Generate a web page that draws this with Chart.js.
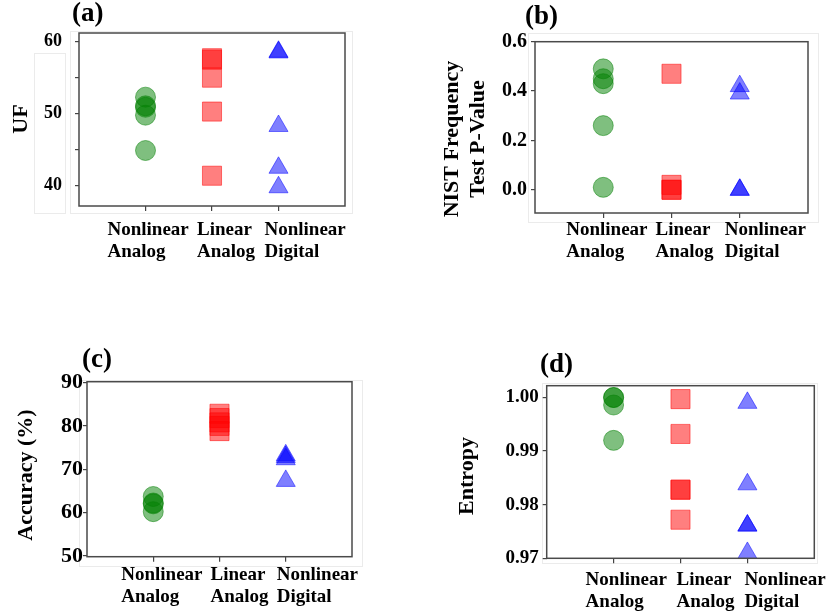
<!DOCTYPE html>
<html>
<head>
<meta charset="utf-8">
<script src="https://cdn.jsdelivr.net/npm/chart.js@4.4.1/dist/chart.umd.min.js"></script>
<style>
  html, body { margin: 0; padding: 0; background: #fff; }
  #wrap { position: relative; width: 830px; height: 616px; }
  #wrap canvas { position: absolute; }
</style>
</head>
<body>
<div id="wrap">
  <canvas id="chartA" width="415" height="308" style="left:0;top:0"></canvas>
  <canvas id="chartB" width="415" height="308" style="left:415px;top:0"></canvas>
  <canvas id="chartC" width="415" height="308" style="left:0;top:308px"></canvas>
  <canvas id="chartD" width="415" height="308" style="left:415px;top:308px"></canvas>
</div>
<script>
// categories on the x axis (two lines each)
const categories = [['Nonlinear', 'Analog'], ['Linear', 'Analog'], ['Nonlinear', 'Digital']];

// (a) UF
const ufTicks = [40, 45, 50, 55, 60];
const ufTickLabels = ['40', '', '50', '', '60'];
const ufNonlinearAnalog = [52.3, 51.1, 50.9, 49.8, 44.9];
const ufLinearAnalog = [57.7, 57.5, 55.0, 50.3, 41.4];
const ufNonlinearDigital = [58.6, 58.5, 48.3, 42.5, 39.8];

// (b) NIST frequency test p-value
const pTicks = [0.0, 0.2, 0.4, 0.6];
const pTickLabels = ['0.0', '0.2', '0.4', '0.6'];
const pNonlinearAnalog = [0.49, 0.45, 0.43, 0.26, 0.01];
const pLinearAnalog = [0.47, 0.02, 0.0, 0.0];
const pNonlinearDigital = [0.42, 0.39, 0.0, 0.0];

// (c) accuracy
const accTicks = [50, 60, 70, 80, 90];
const accTickLabels = ['50', '60', '70', '80', '90'];
const accNonlinearAnalog = [63.7, 62.2, 62.0, 60.2];
const accLinearAnalog = [82.8, 81.8, 80.8, 80.0, 78.8];
const accNonlinearDigital = [73.2, 72.8, 72.3, 67.3];

// (d) entropy
const entTicks = [0.97, 0.98, 0.99, 1.00];
const entTickLabels = ['0.97', '0.98', '0.99', '1.00'];
const entNonlinearAnalog = [1.0, 1.0, 0.9986, 0.992];
const entLinearAnalog = [0.9997, 0.9932, 0.9828, 0.9828, 0.9772];
const entNonlinearDigital = [0.9990, 0.9838, 0.9761, 0.9761, 0.9710];

const SERIF = '"Liberation Serif", "Times New Roman", serif';
const markers = [
  { style: 'circle', r: 10, color: 'rgba(0,128,0,0.5)' },
  { style: 'rect', r: 13.5, color: 'rgba(255,0,0,0.5)' },
  { style: 'triangle', r: 11, color: 'rgba(0,0,255,0.5)' }
];

// letters, axis titles, category labels, frame
function decor(p) {
  return {
    id: 'decor',
    beforeDraw(chart) {
      const ctx = chart.ctx;
      ctx.save();
      ctx.strokeStyle = '#ebebeb';
      ctx.lineWidth = 1;
      p.faint.forEach(r => ctx.strokeRect(r[0] + 0.5, r[1] + 0.5, r[2], r[3]));
      ctx.restore();
    },
    afterDatasetsDraw(chart) {
      const a = chart.chartArea, ctx = chart.ctx;
      ctx.save();
      ctx.strokeStyle = '#4a4a4a';
      ctx.lineWidth = 1.5;
      ctx.strokeRect(a.left, a.top, a.right - a.left, a.bottom - a.top);
      ctx.restore();
    },
    afterDraw(chart) {
      const ctx = chart.ctx, a = chart.chartArea, xs = chart.scales.x;
      ctx.save();
      ctx.fillStyle = '#000';
      ctx.font = 'bold 27px ' + SERIF;
      ctx.textAlign = 'left';
      ctx.textBaseline = 'alphabetic';
      ctx.fillText(p.letter, p.letterPos[0], p.letterPos[1]);

      ctx.font = 'bold 22px ' + SERIF;
      p.yTitle.forEach((t, i) => {
        ctx.save();
        ctx.translate(p.yTitleX[i], p.yTitleY);
        ctx.rotate(-Math.PI / 2);
        ctx.textAlign = 'center';
        ctx.textBaseline = 'middle';
        ctx.fillText(t, 0, 0);
        ctx.restore();
      });

      ctx.font = 'bold 19px ' + SERIF;
      ctx.textAlign = 'left';
      categories.forEach((lines, i) => {
        const x = xs.getPixelForValue(i) + p.labelOffsets[i];
        lines.forEach((t, j) => ctx.fillText(t, x, a.bottom + p.labelBase + j * 22));
      });
      ctx.restore();
    }
  };
}

function makePanel(id, p) {
  const W = 415, H = 308, yW = 50, xH = 10;
  const area = p.area;
  new Chart(document.getElementById(id), {
    type: 'scatter',
    data: {
      datasets: p.series.map((vals, i) => ({
        data: vals.map(v => ({ x: i, y: v })),
        pointStyle: markers[i].style,
        pointRadius: markers[i].r,
        backgroundColor: markers[i].color,
        borderColor: markers[i].color,
        borderWidth: 1
      }))
    },
    options: {
      responsive: false,
      animation: false,
      events: [],
      layout: {
        padding: {
          left: area.left - yW,
          top: area.top,
          right: W - area.right,
          bottom: H - area.bottom - xH
        }
      },
      plugins: { legend: { display: false }, tooltip: { enabled: false } },
      scales: {
        x: {
          type: 'linear', min: -1, max: 3,
          afterBuildTicks: s => { s.ticks = categories.map((c, i) => ({ value: i })); },
          afterFit: s => { s.height = xH; },
          ticks: { autoSkip: false, callback: () => '' },
          grid: { drawOnChartArea: false, tickLength: 5, color: '#444', lineWidth: 1.2 },
          border: { display: false }
        },
        y: {
          min: p.yMin, max: p.yMax,
          afterBuildTicks: s => { s.ticks = p.ticks.map(v => ({ value: v })); },
          afterFit: s => { s.width = yW; },
          ticks: {
            autoSkip: false,
            color: '#000',
            padding: p.tickPad,
            font: { family: SERIF, size: p.tickSize, weight: 'bold' },
            callback: (v, i) => p.tickLabels[i]
          },
          grid: { drawOnChartArea: false, tickLength: 4, color: '#444', lineWidth: 1.2 },
          border: { display: false }
        }
      }
    },
    plugins: [decor(p)]
  });
}

makePanel('chartA', {
  series: [ufNonlinearAnalog, ufLinearAnalog, ufNonlinearDigital],
  ticks: ufTicks, tickLabels: ufTickLabels, yMin: 37.2, yMax: 61.2,
  area: { left: 79, top: 33, right: 345, bottom: 206 },
  tickPad: 13, tickSize: 18,
  letter: '(a)', letterPos: [72, 21],
  yTitle: ['UF'], yTitleX: [21], yTitleY: 119,
  labelOffsets: [-38, -15, -14], labelBase: 29,
  faint: [[34, 53, 31, 160], [70, 31, 282, 182]]
});

makePanel('chartB', {
  series: [pNonlinearAnalog, pLinearAnalog, pNonlinearDigital],
  ticks: pTicks, tickLabels: pTickLabels, yMin: -0.094, yMax: 0.6,
  area: { left: 120, top: 41.7, right: 393, bottom: 213 },
  tickPad: 4, tickSize: 20,
  letter: '(b)', letterPos: [110, 24],
  yTitle: ['NIST Frequency', 'Test P-Value'], yTitleX: [37, 63], yTitleY: 139,
  labelOffsets: [-37, -16, -15], labelBase: 22,
  faint: [[113, 33, 290, 189]]
});

makePanel('chartC', {
  series: [accNonlinearAnalog, accLinearAnalog, accNonlinearDigital],
  ticks: accTicks, tickLabels: accTickLabels, yMin: 49.8, yMax: 90.2,
  area: { left: 87, top: 73.7, right: 352, bottom: 248.7 },
  tickPad: 0, tickSize: 22,
  letter: '(c)', letterPos: [82, 59],
  yTitle: ['Accuracy (%)'], yTitleX: [26], yTitleY: 167,
  labelOffsets: [-32, -9, -9], labelBase: 23,
  faint: [[79, 72, 283, 186]]
});

makePanel('chartD', {
  series: [entNonlinearAnalog, entLinearAnalog, entNonlinearDigital],
  ticks: entTicks, tickLabels: entTickLabels, yMin: 0.97, yMax: 1.0022,
  area: { left: 131.7, top: 77.7, right: 399.3, bottom: 250.3 },
  tickPad: 4, tickSize: 19,
  letter: '(d)', letterPos: [125, 64],
  yTitle: ['Entropy'], yTitleX: [52], yTitleY: 168,
  labelOffsets: [-28, -4, -3], labelBase: 27,
  faint: [[127, 75, 275, 180]]
});
</script>
</body>
</html>
